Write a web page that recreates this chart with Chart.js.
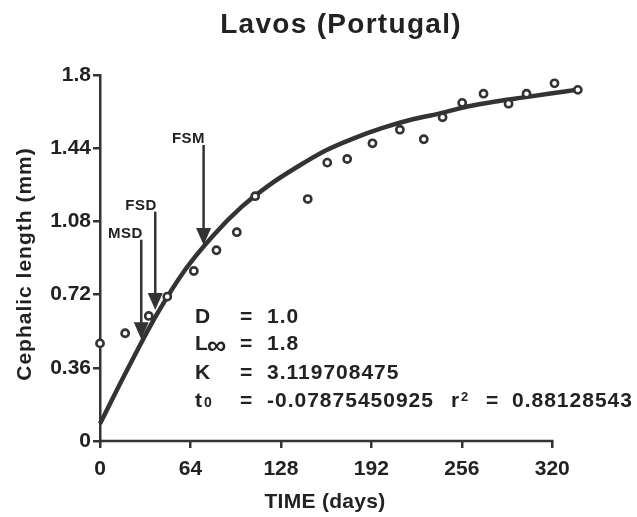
<!DOCTYPE html>
<html>
<head>
<meta charset="utf-8">
<script src="https://cdn.jsdelivr.net/npm/chart.js@4/dist/chart.umd.min.js"></script>
<style>
html,body{margin:0;padding:0;background:#fff;}
canvas{display:block;}
</style>
</head>
<body>
<canvas id="c" width="637" height="517"></canvas>
<script>
// ---- data ----
const timeDays = [0, 17.8, 34.5, 47.6, 66.4, 82.4, 96.8, 109.8, 147, 160.8, 174.9, 192.8, 212.2, 229.1, 242.4, 256.3, 271.4, 289.1, 301.8, 321.6, 338.1];
const cephalicLength = [0.48, 0.53, 0.615, 0.71, 0.836, 0.938, 1.027, 1.204, 1.19, 1.369, 1.387, 1.464, 1.531, 1.484, 1.592, 1.663, 1.708, 1.659, 1.708, 1.759, 1.727];
const curveDays = [0, 20, 40, 60, 80, 100, 120, 140, 160, 180, 200, 220, 240, 260, 280, 300, 320, 338];
const curveLength = [0.085, 0.36, 0.62, 0.84, 1.01, 1.15, 1.26, 1.35, 1.43, 1.49, 1.54, 1.58, 1.61, 1.645, 1.67, 1.69, 1.71, 1.728];
const xTicks = [0, 64, 128, 192, 256, 320];
const yTicks = [0, 0.36, 0.72, 1.08, 1.44, 1.8];
const yTickLabels = ['0', '0.36', '0.72', '1.08', '1.44', '1.8'];
const arrowLabels = ['MSD', 'FSD', 'FSM'];
const arrowDays = [29.2, 39.1, 73.3];
const arrowTopLength = [0.99, 1.128, 1.456];
const arrowTipLength = [0.50, 0.644, 0.964];
const paramNames = ['D', 'L', 'K', 't'];
const paramValues = ['1.0', '1.8', '3.119708475', '-0.07875450925'];
const r2Value = '0.88128543';
const titleText = 'Lavos (Portugal)';
const xTitle = 'TIME (days)';
const yTitle = 'Cephalic length (mm)';

const FONT = "'Liberation Sans', Arial, Helvetica, sans-serif";
const INK = '#222';
const LINE = '#333';

const annot = {
  id: 'annot',
  beforeDatasetsDraw(chart) {
    // x axis line spans only the ticked range 0..320
    const ctx = chart.ctx;
    const xs = chart.scales.x, ys = chart.scales.y;
    const y0 = ys.getPixelForValue(0);
    ctx.save();
    ctx.strokeStyle = LINE;
    ctx.lineWidth = 2.5;
    ctx.beginPath();
    ctx.moveTo(xs.getPixelForValue(xTicks[0]) - 1.25, y0);
    ctx.lineTo(xs.getPixelForValue(xTicks[xTicks.length - 1]) + 1.25, y0);
    ctx.stroke();
    ctx.restore();
  },
  afterDraw(chart) {
    const ctx = chart.ctx;
    const xs = chart.scales.x, ys = chart.scales.y;
    ctx.save();
    ctx.fillStyle = INK;
    ctx.strokeStyle = LINE;
    const txt = (s, x, y, size, align, spacing) => {
      ctx.font = 'bold ' + size + 'px ' + FONT;
      ctx.letterSpacing = (spacing || 0) + 'px';
      ctx.textAlign = align || 'left';
      ctx.textBaseline = 'alphabetic';
      ctx.fillText(s, x, y);
    };
    // title
    txt(titleText, 341, 33, 28, 'center', 1.3);
    // axis titles
    txt(xTitle, 325, 508, 21, 'center', 0.3);
    ctx.save();
    ctx.translate(31, 264);
    ctx.rotate(-Math.PI / 2);
    txt(yTitle, 0, 0, 21, 'center', 1);
    ctx.restore();
    // arrows
    for (let i = 0; i < arrowLabels.length; i++) {
      const px = xs.getPixelForValue(arrowDays[i]);
      const top = ys.getPixelForValue(arrowTopLength[i]);
      const tip = ys.getPixelForValue(arrowTipLength[i]);
      const hh = 17, hw = 7.5;
      ctx.lineWidth = 2.5;
      ctx.beginPath();
      ctx.moveTo(px, top);
      ctx.lineTo(px, tip - hh + 1);
      ctx.stroke();
      ctx.beginPath();
      ctx.moveTo(px - hw, tip - hh);
      ctx.lineTo(px + hw, tip - hh);
      ctx.lineTo(px, tip);
      ctx.closePath();
      ctx.fillStyle = LINE;
      ctx.fill();
      ctx.fillStyle = INK;
      txt(arrowLabels[i], px + 1.5, top - 2, 15, 'right', 0.5);
    }
    // parameter block
    const base = [323, 350, 379, 407];
    for (let i = 0; i < 4; i++) {
      txt(paramNames[i], 195, base[i], 21, 'left', 0);
      txt('=', 240, base[i], 21, 'left', 0);
      txt(paramValues[i], 267, base[i], 21, 'left', 1);
    }
    txt('\u221E', 207, base[1] + 4, 27, 'left', 0);
    txt('0', 204, base[3], 14, 'left', 0);
    txt('r', 451, base[3], 21, 'left', 0);
    txt('2', 461, base[3] - 6, 13, 'left', 0);
    txt('=', 486, base[3], 21, 'left', 0);
    txt(r2Value, 512, base[3], 21, 'left', 1);
    ctx.restore();
  }
};

new Chart(document.getElementById('c'), {
  type: 'scatter',
  data: {
    datasets: [
      {
        type: 'line',
        data: curveDays.map((d, i) => ({ x: d, y: curveLength[i] })),
        borderColor: LINE,
        borderWidth: 4.5,
        pointRadius: 0,
        fill: false,
        cubicInterpolationMode: 'monotone',
        clip: false,
        order: 2
      },
      {
        data: timeDays.map((d, i) => ({ x: d, y: cephalicLength[i] })),
        pointRadius: 3.6,
        pointBorderWidth: 2.6,
        pointBorderColor: LINE,
        pointBackgroundColor: '#fff',
        showLine: false,
        clip: false,
        order: 1
      }
    ]
  },
  options: {
    responsive: false,
    devicePixelRatio: 1,
    animation: false,
    events: [],
    layout: { padding: { top: 75, right: 56.5, left: 0, bottom: 0 } },
    plugins: { legend: { display: false }, title: { display: false }, tooltip: { enabled: false } },
    scales: {
      x: {
        type: 'linear',
        bounds: 'data',
        afterDataLimits: s => { s.min = 0; s.max = 340; },
        afterBuildTicks: s => { s.ticks = xTicks.map(v => ({ value: v })); s.min = 0; s.max = 340; },
        afterFit: s => { s.height = 76; },
        border: { display: false },
        grid: { display: true, drawOnChartArea: false, drawTicks: true, tickLength: 7, color: LINE, lineWidth: 2.5 },
        ticks: { color: INK, font: { family: FONT, size: 21, weight: 'bold' }, padding: 9, maxRotation: 0, callback: v => String(v) }
      },
      y: {
        type: 'linear',
        min: 0, max: 1.8,
        afterBuildTicks: s => { s.ticks = yTicks.map(v => ({ value: v })); },
        afterFit: s => { s.width = 100; },
        border: { display: true, color: LINE, width: 2.5 },
        grid: { display: true, drawOnChartArea: false, drawTicks: true, tickLength: 7, color: LINE, lineWidth: 2.5 },
        ticks: { color: INK, font: { family: FONT, size: 21, weight: 'bold' }, padding: 2,
          callback: (v, i) => yTickLabels[i] }
      }
    }
  },
  plugins: [annot]
});
</script>
</body>
</html>
